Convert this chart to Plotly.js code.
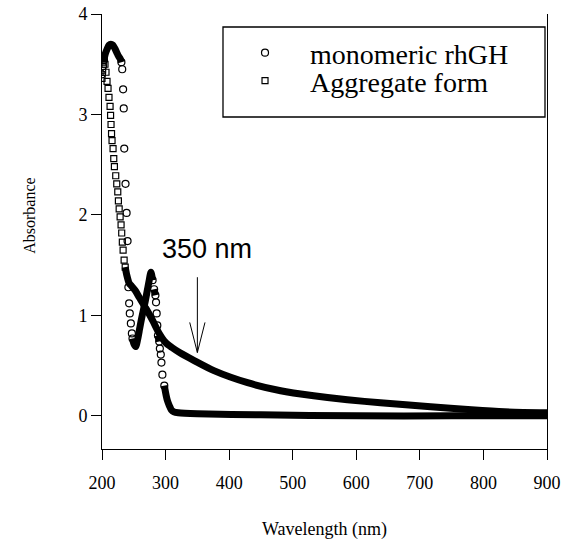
<!DOCTYPE html>
<html>
<head>
<meta charset="utf-8">
<script src="https://cdn.plot.ly/plotly-3.0.1.min.js"></script>
<style>
  html, body { margin: 0; padding: 0; background: #ffffff; }
  #chart { width: 572px; height: 546px; }
</style>
</head>
<body>
<div id="chart"></div>
<script>
// UV-Vis absorption spectra of rhGH: monomeric protein vs. aggregate form.

// Monomeric rhGH (open circles)
const MONO_NM = [200, 201.5, 203, 205, 208, 211, 214, 217, 220, 223,
  226, 229, 230.5, 231.8, 233.2, 234.2, 235, 237, 238.7, 240.2,
  241.5, 242.7, 243.7, 245.4, 247, 248, 250, 253, 256, 259,
  262, 265, 268, 271, 274, 277, 279.6, 282, 284, 285,
  286, 287, 288, 290, 291, 292.5, 293.5, 295, 298, 301,
  303, 306, 309, 313, 320, 350, 450, 600, 750, 900];
const MONO_ABS = [3.40, 3.48, 3.54, 3.60, 3.65, 3.69, 3.70, 3.69, 3.66, 3.62,
  3.58, 3.55, 3.52, 3.45, 3.25, 3.06, 2.66, 2.31, 2.02, 1.74,
  1.28, 1.12, 1.02, 0.92, 0.82, 0.77, 0.72, 0.69, 0.76, 0.86,
  0.96, 1.05, 1.14, 1.24, 1.34, 1.43, 1.35, 1.26, 1.20, 1.13,
  1.02, 0.90, 0.80, 0.74, 0.67, 0.61, 0.53, 0.41, 0.30, 0.20,
  0.15, 0.10, 0.06, 0.04, 0.03, 0.02, 0.01, 0.0, 0.0, 0.0];

// Aggregate form (open squares)
const AGG_NM = [200, 201, 202, 203.5, 204.7, 206.3, 207.9, 209.5, 211, 212.7,
  213.5, 214.2, 215, 215.8, 217.4, 218.5, 219.5, 221.6, 223.2, 224.8,
  225.8, 227, 228.5, 230, 231, 232, 233.2, 234.8, 236.5, 239,
  242.7, 245.4, 252, 258.5, 269, 279.6, 290, 300, 310, 322,
  345, 376, 429, 481, 533, 586, 638, 717, 781, 833,
  900];
const AGG_ABS = [3.36, 3.44, 3.52, 3.56, 3.50, 3.42, 3.33, 3.26, 3.17, 3.08,
  2.99, 2.90, 2.81, 2.74, 2.66, 2.56, 2.48, 2.39, 2.31, 2.23,
  2.14, 2.06, 1.98, 1.90, 1.82, 1.73, 1.65, 1.55, 1.48, 1.40,
  1.32, 1.30, 1.25, 1.18, 1.07, 0.95, 0.82, 0.73, 0.68, 0.63,
  0.55, 0.45, 0.33, 0.25, 0.20, 0.16, 0.13, 0.09, 0.06, 0.04,
  0.03];

const SERIES_NAMES = ['monomeric rhGH', 'Aggregate form'];
const X_TICKS = [200, 300, 400, 500, 600, 700, 800, 900];
const Y_TICKS = [0, 1, 2, 3, 4];
const MARKED_NM = 350;
const MARK_LABEL = '350 nm';

// Where the spectrum is shallow the dense instrument samples merge into a
// solid band; where it is steep the individual symbols stay apart.
const BAND_SLOPE = 0.035; // absorbance per nm

function segmentIsBand(xs, ys, i) {
  return Math.abs((ys[i + 1] - ys[i]) / (xs[i + 1] - xs[i])) < BAND_SLOPE;
}

function bandSegments(xs, ys) {
  const bx = [], by = [];
  for (let i = 0; i < xs.length - 1; i++) {
    if (segmentIsBand(xs, ys, i)) {
      if (bx.length && bx[bx.length - 1] === xs[i]) {
        bx.push(xs[i + 1]); by.push(ys[i + 1]);
      } else {
        if (bx.length) { bx.push(null); by.push(null); }
        bx.push(xs[i], xs[i + 1]); by.push(ys[i], ys[i + 1]);
      }
    }
  }
  return { x: bx, y: by };
}

// symbols buried inside the band are left transparent
function symbolColors(xs, ys) {
  const n = xs.length;
  return xs.map((_, i) => {
    const before = i > 0 && segmentIsBand(xs, ys, i - 1);
    const after = i < n - 1 && segmentIsBand(xs, ys, i);
    const inside = (before || i === 0) && (after || i === n - 1) && (before || after);
    return inside ? 'rgba(0,0,0,0)' : '#000000';
  });
}

const SERIF = 'Liberation Serif, Times New Roman, serif';
const SANS = 'Liberation Sans, Arial, sans-serif';

const monoBand = bandSegments(MONO_NM, MONO_ABS);
const aggBand = bandSegments(AGG_NM, AGG_ABS);
const monoColors = symbolColors(MONO_NM, MONO_ABS);
const aggColors = symbolColors(AGG_NM, AGG_ABS);

const bandLine = { color: '#000000', width: 7, shape: 'spline', smoothing: 0.7 };

const traces = [
  { x: monoBand.x, y: monoBand.y, mode: 'lines', line: bandLine,
    connectgaps: false, showlegend: false, hoverinfo: 'skip' },
  { x: aggBand.x, y: aggBand.y, mode: 'lines', line: bandLine,
    connectgaps: false, showlegend: false, hoverinfo: 'skip' },
  { x: MONO_NM, y: MONO_ABS, mode: 'markers', name: SERIES_NAMES[0], legend: 'legend',
    marker: { symbol: 'circle-open', size: 7, color: monoColors,
      line: { width: 1.2, color: monoColors } } },
  { x: AGG_NM, y: AGG_ABS, mode: 'markers', name: SERIES_NAMES[1], legend: 'legend2',
    marker: { symbol: 'square-open', size: 6, color: aggColors,
      line: { width: 1.2, color: aggColors } } }
];

const axisCommon = {
  ticks: 'outside', ticklen: 10, tickwidth: 1, tickcolor: '#000000',
  showline: true, linecolor: '#000000', linewidth: 1,
  showgrid: false, zeroline: false,
  tickfont: { family: SERIF, size: 18, color: '#000000' }
};

// one legend per row so the rows sit as tightly as in the printed key
const legendCommon = {
  x: 0.2652, xanchor: 'left', yanchor: 'top',
  bgcolor: 'rgba(0,0,0,0)', borderwidth: 0,
  font: { family: SERIF, size: 28, color: '#000000' },
  itemwidth: 80
};

const layout = {
  width: 572, height: 546,
  margin: { l: 102, r: 25, t: 14, b: 97 },
  paper_bgcolor: '#ffffff', plot_bgcolor: '#ffffff',
  xaxis: Object.assign({}, axisCommon, {
    range: [200, 900], tickmode: 'array', tickvals: X_TICKS,
    ticklabelstandoff: 7,
    title: { text: 'Wavelength (nm)', font: { family: SERIF, size: 18, color: '#000000' }, standoff: 30 }
  }),
  yaxis: Object.assign({}, axisCommon, {
    range: [-0.33, 4], tickmode: 'array', tickvals: Y_TICKS, mirror: true
  }),
  showlegend: true,
  legend: Object.assign({}, legendCommon, { y: 0.9678 }),
  legend2: Object.assign({}, legendCommon, { y: 0.9035 }),
  annotations: [
    { text: 'Absorbance', xref: 'paper', yref: 'paper', x: -0.162, y: 0.536,
      xanchor: 'center', yanchor: 'middle',
      textangle: -90, showarrow: false,
      font: { family: SERIF, size: 16, color: '#000000' } },
    { text: MARK_LABEL, xref: 'x', yref: 'y', x: MARKED_NM + 15, y: 1.66,
      xanchor: 'center', yanchor: 'middle',
      showarrow: false, font: { family: SANS, size: 27, color: '#000000' } }
  ],
  shapes: [
    // frame around the key
    { type: 'rect', xref: 'paper', yref: 'paper',
      x0: 0.2719, x1: 0.9955, y0: 0.7632, y1: 0.9701,
      line: { color: '#000000', width: 1.3 }, fillcolor: '#ffffff', layer: 'below' },
    // arrow pointing at the marked wavelength: shaft plus an open V head
    { type: 'path', xref: 'x', yref: 'y',
      path: 'M ' + MARKED_NM + ',1.38 L ' + MARKED_NM + ',0.63 ' +
            'M ' + (MARKED_NM - 12) + ',0.93 L ' + MARKED_NM + ',0.63 L ' + (MARKED_NM + 12) + ',0.93',
      line: { color: '#000000', width: 1 } }
  ]
};

Plotly.newPlot('chart', traces, layout, { displayModeBar: false, staticPlot: true });
</script>
</body>
</html>
